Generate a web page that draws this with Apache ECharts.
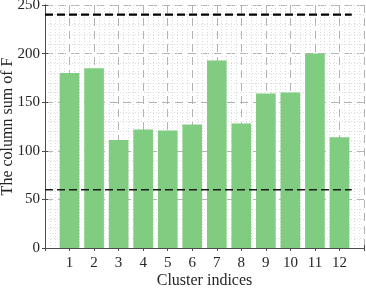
<!DOCTYPE html>
<html>
<head>
<meta charset="utf-8">
<script src="https://cdn.jsdelivr.net/npm/echarts@6/dist/echarts.min.js"></script>
<style>html,body{margin:0;padding:0;background:#fff}#c{width:366px;height:288px}</style>
</head>
<body>
<div id="c"></div>
<script>
const categories = [1, 2, 3, 4, 5, 6, 7, 8, 9, 10, 11, 12];
const columnSums = [180, 185, 111, 122, 121, 127, 193, 128, 159, 160, 200, 114];
const yTicks = [0, 50, 100, 150, 200, 250];
const upperLimit = 240;
const lowerLimit = 60;
const limitSpan = [0, 12.5];

const chart = echarts.init(document.getElementById('c'), null, {renderer: 'canvas'});
const font = 'Liberation Serif';
const axisColor = '#4d4d4d';
const majorSplit = {show: true, lineStyle: {color: '#b3b3b3', type: [8, 5], width: 1}};
const minorSplit = {show: true, lineStyle: {color: '#dcdcdc', type: [1, 2], width: 1}};

chart.setOption({
  animation: false,
  grid: {left: 45, right: 2, top: 5, bottom: 40, outerBoundsMode: 'none', containLabel: false},
  xAxis: [{
    type: 'value', min: 0, max: 13, interval: 1,
    name: 'Cluster indices', nameLocation: 'middle', nameGap: 25, nameMoveOverlap: false,
    nameTextStyle: {fontFamily: font, fontSize: 16, color: '#262626'},
    axisLine: {show: true, lineStyle: {color: axisColor}},
    axisTick: {show: true, inside: true, length: 3, lineStyle: {color: axisColor}},
    axisLabel: {fontFamily: font, fontSize: 15, color: '#262626', margin: 8,
      formatter: v => categories.includes(v) ? String(v) : ''},
    splitLine: majorSplit,
    minorTick: {show: false, splitNumber: 5},
    minorSplitLine: minorSplit
  }, {
    type: 'value', min: 0, max: 13, interval: 1, position: 'top',
    axisLine: {show: true, lineStyle: {color: axisColor}},
    axisTick: {show: true, inside: true, length: 3, lineStyle: {color: axisColor}},
    axisLabel: {show: false}, splitLine: {show: false}
  }],
  yAxis: [{
    type: 'value', min: yTicks[0], max: yTicks[yTicks.length - 1], interval: 50,
    name: 'The column sum of F', nameLocation: 'middle', nameGap: 29, nameMoveOverlap: false,
    nameTextStyle: {fontFamily: font, fontSize: 16, color: '#262626'},
    axisLine: {show: true, lineStyle: {color: axisColor}},
    axisTick: {show: true, inside: true, length: 3, lineStyle: {color: axisColor}},
    axisLabel: {fontFamily: font, fontSize: 15, color: '#262626', margin: 5},
    splitLine: majorSplit,
    minorTick: {show: false, splitNumber: 5},
    minorSplitLine: minorSplit
  }, {
    type: 'value', min: 0, max: 250, interval: 50, position: 'right',
    axisLine: {show: true, lineStyle: {color: axisColor}},
    axisTick: {show: true, inside: true, length: 3, lineStyle: {color: axisColor}},
    axisLabel: {show: false}, splitLine: {show: false}
  }],
  series: [{
    type: 'bar',
    data: categories.map((c, i) => [c, columnSums[i]]),
    barWidth: '80%',
    itemStyle: {color: '#80cc80'},
    z: 2
  }, {
    type: 'line',
    data: limitSpan.map(x => [x, upperLimit]),
    symbol: 'none',
    lineStyle: {color: '#000', width: 2.2, type: [8, 4]},
    z: 3
  }, {
    type: 'line',
    data: limitSpan.map(x => [x, lowerLimit]),
    symbol: 'none',
    lineStyle: {color: '#1a1a1a', width: 1.5, type: [8, 4]},
    z: 3
  }]
});
</script>
</body>
</html>
